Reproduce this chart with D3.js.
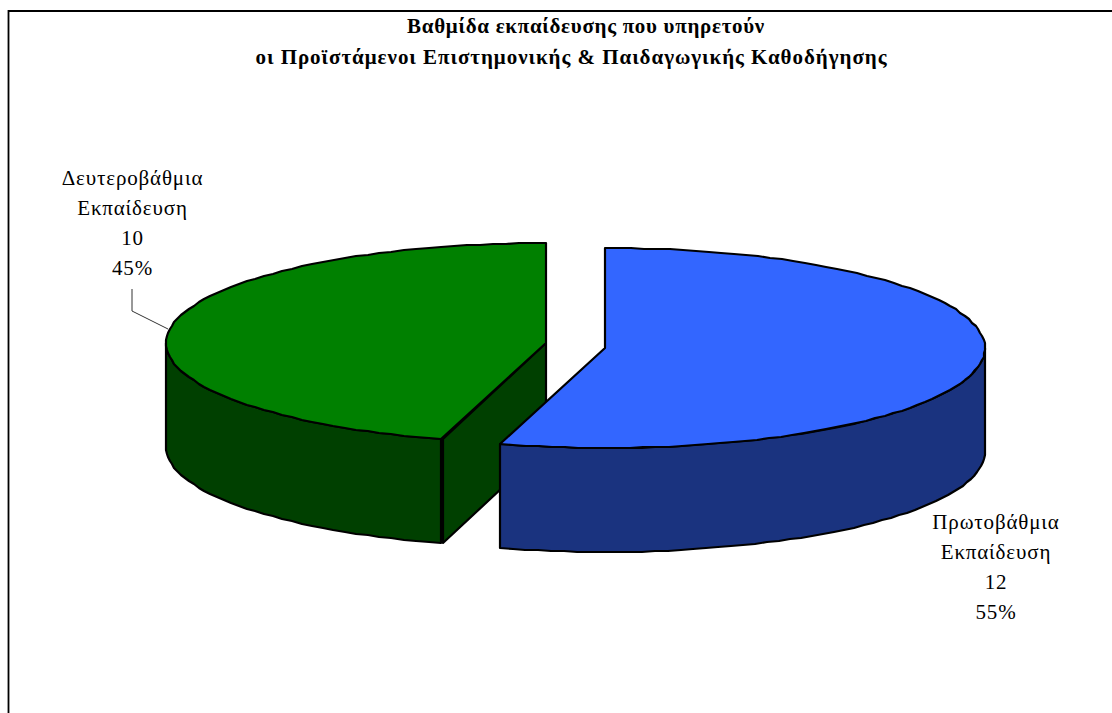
<!DOCTYPE html>
<html>
<head>
<meta charset="utf-8">
<script src="https://cdn.jsdelivr.net/npm/d3@7"></script>
<style>
  html, body { margin: 0; padding: 0; background: #fff; }
  svg { display: block; }
  text { font-family: "Liberation Serif", serif; fill: #000; }
</style>
</head>
<body>
<svg id="chart" width="1112" height="713"></svg>
<script>
// data
const titleLines = ['Βαθμίδα εκπαίδευσης που υπηρετούν', 'οι Προϊστάμενοι Επιστημονικής & Παιδαγωγικής Καθοδήγησης'];
const categories = [['Πρωτοβάθμια', 'Εκπαίδευση'], ['Δευτεροβάθμια', 'Εκπαίδευση']];
const values = [12, 10];
const percents = ['55%', '45%'];

// layout, one entry per slice
const topColors = ['#3366ff', '#008000'];
const wallColors = ['#1a337f', '#004000'];
const centers = [[605, 348], [546, 343]];   // exploded slices
const labelAt = [[996, 529], [132.5, 185]]; // x centre, first baseline
const titleX = [586, 571.5], titleY = [33, 64], titleSpacing = [0.7, 0.96];
const RX = 380, RY = 100, DEPTH = 104;

const svg = d3.select('#chart');

// frame: only left and top fall inside the crop
svg.append('path')
  .attr('d', 'M8.5,713V11H1112')
  .attr('fill', 'none').attr('stroke', '#000').attr('stroke-width', 1.8);

const t = svg.append('g').attr('font-weight', 'bold').attr('font-size', 21).attr('text-anchor', 'middle');
t.selectAll('text').data(titleLines).enter().append('text')
  .attr('x', (d, i) => titleX[i]).attr('y', (d, i) => titleY[i])
  .attr('letter-spacing', (d, i) => titleSpacing[i])
  .text((d) => d);

// angles clockwise from 12 o'clock; the divider sits a hair before the
// exact share in the source, the outer edges stay on 12 o'clock
const TILT = -0.0063;
const slices = d3.pie().sort(null).startAngle(TILT).endAngle(Math.PI * 2 + TILT)(values);
slices[0].startAngle = 0;
slices[1].endAngle = Math.PI * 2;

const pt = (c, a, dy = 0) => [Math.round(c[0] + RX * Math.sin(a)), Math.round(c[1] - RY * Math.cos(a)) + dy];
const line = d3.line();

// rim points are rounded to whole pixels, the source has the same stepped edge
function rim(c, a0, a1, dy) {
  const n = Math.max(2, Math.ceil((a1 - a0) / (Math.PI / 90)));
  return d3.range(n + 1).map((i) => pt(c, a0 + (a1 - a0) * i / n, dy));
}

function drawWall(g, i, d) {
  const c = centers[i];
  const a0 = Math.max(d.startAngle, Math.PI / 2), a1 = Math.min(d.endAngle, Math.PI * 1.5);
  if (a1 <= a0) return;
  const upper = rim(c, a0, a1, 0), lower = rim(c, a0, a1, DEPTH).reverse();
  g.append('path').attr('d', line(upper.concat(lower)) + 'Z')
    .attr('fill', wallColors[i]).attr('stroke', '#000').attr('stroke-width', 2.2).attr('stroke-linejoin', 'round');
}

function drawCutFace(g, i, a) {
  const c = centers[i], e = pt(c, a);
  // 2px off the wall: the source shows a double line on that corner
  g.append('path')
    .attr('d', line([[c[0], c[1]], [e[0] + 2, e[1]], [e[0] + 2, e[1] + DEPTH], [c[0], c[1] + DEPTH]]) + 'Z')
    .attr('fill', wallColors[i]).attr('stroke', '#000').attr('stroke-width', 2.2).attr('stroke-linejoin', 'round');
}

function drawTop(g, i, d) {
  const c = centers[i];
  g.append('path').attr('d', line([c].concat(rim(c, d.startAngle, d.endAngle, 0))) + 'Z')
    .attr('fill', topColors[i]).attr('stroke', '#000').attr('stroke-width', 2.2).attr('stroke-linejoin', 'round');
}

// green sits behind blue
const pieG = svg.append('g');
drawWall(pieG, 1, slices[1]);
drawCutFace(pieG, 1, slices[1].startAngle);
drawTop(pieG, 1, slices[1]);
drawWall(pieG, 0, slices[0]);
drawTop(pieG, 0, slices[0]);

// leader line for the left label
svg.append('path').attr('d', 'M132,289V311L168,329')
  .attr('fill', 'none').attr('stroke', '#333').attr('stroke-width', 1);

const labels = svg.append('g').attr('font-size', 21).attr('text-anchor', 'middle');
categories.forEach((cat, i) => {
  const rows = cat.concat([String(values[i]), percents[i]]);
  labels.selectAll(null).data(rows).enter().append('text')
    .attr('x', labelAt[i][0]).attr('y', (d, k) => labelAt[i][1] + k * 30)
    .attr('letter-spacing', 0.85)
    .text((d) => d);
});
</script>
</body>
</html>
